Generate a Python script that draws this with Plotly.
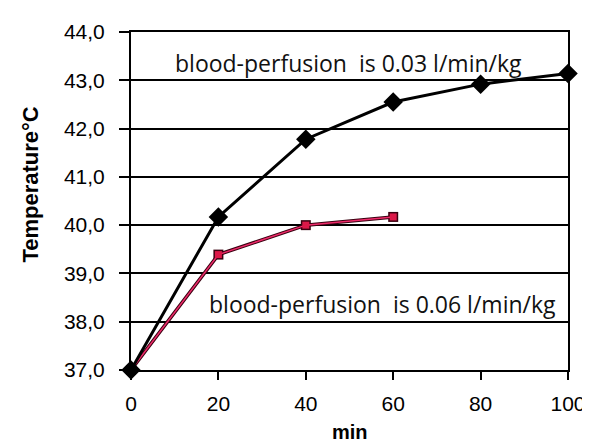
import plotly.graph_objects as go

minutes_a = [0, 20, 40, 60, 80, 100]
temp_a = [37.0, 40.17, 41.78, 42.55, 42.92, 43.14]
minutes_b = [0, 20, 40, 60]
temp_b = [37.0, 39.39, 40.0, 40.17]
y_ticks = [37, 38, 39, 40, 41, 42, 43, 44]
y_tick_text = ["37,0", "38,0", "39,0", "40,0", "41,0", "42,0", "43,0", "44,0"]
x_ticks = [0, 20, 40, 60, 80, 100]
label_a = "blood-perfusion\u00a0 is 0.03 l/min/kg"
label_b = "blood-perfusion\u00a0 is 0.06 l/min/kg"

fig = go.Figure()
fig.add_trace(go.Scatter(
    x=minutes_b, y=temp_b, mode="lines+markers",
    line=dict(color="#3a0010", width=3.5),
    marker=dict(symbol="square", size=10, color="#3a0010"),
    showlegend=False, cliponaxis=False, hoverinfo="skip"))
fig.add_trace(go.Scatter(
    x=minutes_b, y=temp_b, mode="lines+markers",
    line=dict(color="#ee2a6a", width=1.5),
    marker=dict(symbol="square", size=7, color="#dc1848"),
    showlegend=False, cliponaxis=False, name="0.06 l/min/kg"))
fig.add_trace(go.Scatter(
    x=minutes_a, y=temp_a, mode="lines+markers",
    line=dict(color="black", width=3),
    marker=dict(symbol="diamond", size=15, color="black"),
    showlegend=False, cliponaxis=False, name="0.03 l/min/kg"))

fig.add_annotation(x=49.8, y=43.35, xref="x", yref="y", text=label_a, showarrow=False,
                   font=dict(family="Open Sans", size=23, color="#111"), xanchor="center", yanchor="middle")
fig.add_annotation(x=57.6, y=38.36, xref="x", yref="y", text=label_b, showarrow=False,
                   font=dict(family="Open Sans", size=23, color="#111"), xanchor="center", yanchor="middle")
fig.add_annotation(x=-0.23, y=0.55, xref="paper", yref="paper", text="<b>Temperature°C</b>",
                   textangle=-90, showarrow=False,
                   font=dict(family="Liberation Sans", size=22, color="black"),
                   xanchor="center", yanchor="middle")
fig.add_annotation(x=0.5, y=-0.218, xref="paper", yref="paper", text="<b>min</b>",
                   showarrow=False, font=dict(family="Liberation Sans", size=20, color="black"),
                   xanchor="center", yanchor="bottom", borderpad=0)

fig.update_layout(
    width=590, height=446,
    margin=dict(l=123, r=19, t=22, b=84),
    paper_bgcolor="white", plot_bgcolor="white",
    font=dict(family="Liberation Sans", size=21, color="black"),
)
fig.update_xaxes(range=[0, 100], tickvals=x_ticks, showgrid=False, zeroline=False,
                 showline=True, linecolor="black", linewidth=2, mirror=True,
                 ticks="outside", ticklen=8, tickwidth=2, tickcolor="black",
                 ticklabelstandoff=6)
fig.update_yaxes(range=[37, 44], tickvals=y_ticks, ticktext=y_tick_text,
                 showgrid=True, gridcolor="black", gridwidth=2, zeroline=False,
                 showline=True, linecolor="black", linewidth=2, mirror=True,
                 ticks="outside", ticklen=10, tickwidth=2, tickcolor="black",
                 ticklabelstandoff=10)

fig.write_html("out.html")
